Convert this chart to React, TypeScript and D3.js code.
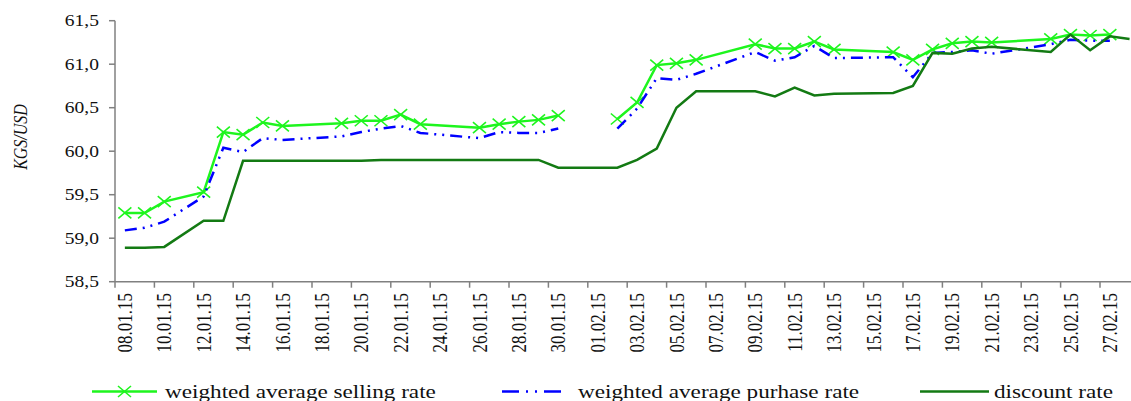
import * as React from 'react';
import * as d3 from 'd3';

const dates = [
    '08.01.15', '09.01.15', '10.01.15', '12.01.15', '13.01.15', '14.01.15', '15.01.15', '16.01.15',
    '19.01.15', '20.01.15', '21.01.15', '22.01.15', '23.01.15', '26.01.15', '27.01.15', '28.01.15',
    '29.01.15', '30.01.15', '31.01.15', '01.02.15', '02.02.15', '03.02.15', '04.02.15', '05.02.15',
    '06.02.15', '09.02.15', '10.02.15', '11.02.15', '12.02.15', '13.02.15', '16.02.15', '17.02.15',
    '18.02.15', '19.02.15', '20.02.15', '21.02.15', '24.02.15', '25.02.15', '26.02.15', '27.02.15',
    '28.02.15',
];

const selling = [
    59.29, 59.29, 59.42, 59.53, 60.22, 60.19, 60.33, 60.29,
    60.32, 60.35, 60.35, 60.42, 60.31, 60.27, 60.31, 60.34,
    60.36, 60.41, null, null, 60.37, 60.56, 60.99, 61.01,
    61.05, 61.23, 61.18, 61.18, 61.26, 61.17, 61.14, 61.05,
    61.17, 61.24, 61.26, 61.25, 61.29, 61.34, 61.33, 61.34,
    null,
];

const purchase = [
    59.09, 59.12, 59.19, 59.48, 60.04, 59.99, 60.15, 60.13,
    60.17, 60.22, 60.26, 60.29, 60.21, 60.15, 60.22, 60.21,
    60.21, 60.26, null, null, 60.26, 60.49, 60.84, 60.82,
    60.89, 61.14, 61.04, 61.08, 61.21, 61.07, 61.08, 60.85,
    61.13, 61.14, 61.16, 61.12, 61.23, 61.28, 61.27, 61.27,
    null,
];

const discount = [
    58.89, 58.89, 58.9, 59.2, 59.2, 59.89, 59.89, 59.89,
    59.89, 59.89, 59.9, 59.9, 59.9, 59.9, 59.9, 59.9,
    59.9, 59.81, 59.81, 59.81, 59.81, 59.9, 60.03, 60.5,
    60.69, 60.69, 60.63, 60.73, 60.64, 60.66, 60.67, 60.75,
    61.13, 61.12, 61.18, 61.2, 61.14, 61.34, 61.16, 61.32,
    61.29,
];

const yTicks = [58.5, 59, 59.5, 60, 60.5, 61, 61.5];

const xTickLabels = [
    '08.01.15', '10.01.15', '12.01.15', '14.01.15', '16.01.15', '18.01.15', '20.01.15',
    '22.01.15', '24.01.15', '26.01.15', '28.01.15', '30.01.15', '01.02.15', '03.02.15',
    '05.02.15', '07.02.15', '09.02.15', '11.02.15', '13.02.15', '15.02.15', '17.02.15',
    '19.02.15', '21.02.15', '23.02.15', '25.02.15', '27.02.15',
];

const seriesNames = ['weighted average selling rate', 'weighted average purhase rate', 'discount rate'];

const FONT = '"Liberation Serif", "Times New Roman", serif';
const SX = 1.22; // the original picture is stretched sideways
const HALF_DAY = 12 * 3600 * 1000;
const parse = d3.utcParse('%d.%m.%y');

export default function App() {
    const width = 1131;
    const height = 401;

    const x = d3.scaleUtc()
        .domain([parse('08.01.15') as Date, parse('01.03.15') as Date])
        .range([115, 115 + 52 * 19.7]);

    const y = d3.scaleLinear()
        .domain([58.5, 61.5])
        .range([281.7, 20.7]);

    const cx = (s: string) => x(new Date(+(parse(s) as Date) + HALF_DAY));

    const line = d3.line<number | null>()
        .defined(v => v != null)
        .x((_, i) => cx(dates[i]))
        .y(v => y(v as number));

    const tickDates = xTickLabels.map(s => parse(s) as Date);
    const axisColor = '#808080';
    const lightGreen = '#1ef51e';
    const blue = '#0000ff';
    const darkGreen = '#137a13';

    const cross = 'M-6.5,-5.5L6.5,5.5M-6.5,5.5L6.5,-5.5';

    return (
        <svg width={width} height={height} style={{ position: 'absolute', left: 0, top: 0, background: '#fff' }}
            fontFamily={FONT}>
            {/* axes */}
            <line x1={115} x2={115} y1={y(61.5)} y2={y(58.5)} stroke={axisColor} strokeWidth={1.5} />
            <line x1={115} x2={width} y1={y(58.5)} y2={y(58.5)} stroke={axisColor} strokeWidth={1.5} />
            {yTicks.map(t => (
                <g key={t}>
                    <line x1={109} x2={115} y1={y(t)} y2={y(t)} stroke={axisColor} strokeWidth={1.5} />
                    <g transform={`translate(99,${y(t)}) scale(${SX},1)`}>
                        <text textAnchor="end" dominantBaseline="central" fontSize={16} fill="#111">
                            {d3.format('.1f')(t).replace('.', ',')}
                        </text>
                    </g>
                </g>
            ))}
            {tickDates.map((d, i) => (
                <g key={i}>
                    <line x1={x(d)} x2={x(d)} y1={y(58.5)} y2={y(58.5) + 6} stroke={axisColor} strokeWidth={1.5} />
                    <g transform={`translate(${x(d) + 9.85},293) scale(${SX},1) rotate(-90)`}>
                        <text textAnchor="end" dominantBaseline="central" fontSize={17} fill="#111">
                            {xTickLabels[i]}
                        </text>
                    </g>
                </g>
            ))}
            <g transform={`translate(20,137) scale(${SX},1) rotate(-90)`}>
                <text textAnchor="middle" dominantBaseline="central" fontSize={16} fontStyle="italic" fill="#111">
                    KGS/USD
                </text>
            </g>

            {/* series */}
            <path d={line(selling) ?? ''} fill="none" stroke={lightGreen} strokeWidth={2.5} />
            {selling.map((v, i) => v == null ? null : (
                <path key={i} d={cross} transform={`translate(${cx(dates[i])},${y(v)})`}
                    stroke={lightGreen} strokeWidth={1.6} fill="none" />
            ))}
            <path d={line(purchase) ?? ''} fill="none" stroke={blue} strokeWidth={2.5}
                strokeDasharray="12,6,2,6,2,6" />
            <path d={line(discount) ?? ''} fill="none" stroke={darkGreen} strokeWidth={2.5} />

            {/* legend */}
            <line x1={92} x2={157} y1={391.5} y2={391.5} stroke={lightGreen} strokeWidth={2.5} />
            <path d={cross} transform="translate(124.5,391.5)" stroke={lightGreen} strokeWidth={1.6} fill="none" />
            <g transform={`translate(165,397.5) scale(${SX},1)`}>
                <text fontSize={19} fill="#111">{seriesNames[0]}</text>
            </g>
            <line x1={502} x2={567} y1={391.5} y2={391.5} stroke={blue} strokeWidth={2.5}
                strokeDasharray="17,7,2,7,2,7" />
            <g transform={`translate(578,397.5) scale(${SX},1)`}>
                <text fontSize={19} fill="#111">{seriesNames[1]}</text>
            </g>
            <line x1={920} x2={989} y1={391.5} y2={391.5} stroke={darkGreen} strokeWidth={2.5} />
            <g transform={`translate(994,397.5) scale(${SX},1)`}>
                <text fontSize={19} fill="#111">{seriesNames[2]}</text>
            </g>
        </svg>
    );
}
